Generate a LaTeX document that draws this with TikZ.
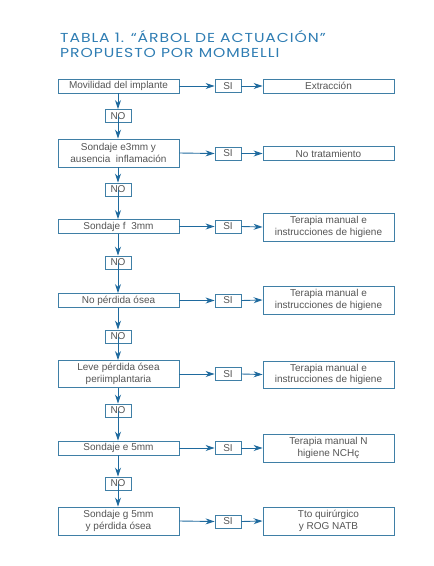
\documentclass[tikz,border=0pt]{standalone}
\usepackage{fontspec}
\setmainfont{Liberation Sans}
\newfontfamily\titlefont[LetterSpace=6]{Poppins}
\usetikzlibrary{arrows.meta}
\definecolor{boxc}{HTML}{3F7FA6}
\definecolor{arrc}{HTML}{1F6A9E}
\definecolor{txtc}{HTML}{555555}
\definecolor{titc}{HTML}{2F7DB3}
\tikzset{
  bx/.style={draw=boxc, line width=0.9pt, fill=white, text=txtc, font=\fontsize{10}{11.5}\selectfont, align=center, inner sep=0pt},
  lbox/.style={bx, minimum width=121pt},
  rbox/.style={bx, minimum width=131pt},
  sibox/.style={bx, minimum width=26pt, minimum height=13pt},
  nobox/.style={bx, minimum width=26pt, minimum height=13pt},
  arr/.style={draw=arrc, line width=0.9pt, -{Stealth[length=9pt,width=6pt]}},
  titl/.style={anchor=base west, text=titc, font=\titlefont\fontsize{13}{14}\selectfont, inner sep=0pt, xscale=1.2, transform shape}
}
\begin{document}
\begin{tikzpicture}[x=1pt,y=-1pt]
\useasboundingbox (0,0) rectangle (434,566);
\node[titl] (t1) at (60,42.5) {TABLA 1. “ÁRBOL DE ACTUACIÓN”};
\node[titl] (t2) at (60,57) {PROPUESTO POR MOMBELLI};
% left column
\node[lbox, minimum height=14pt] (l1) at (118.5,86) {Movilidad del implante};
\node[lbox, minimum height=28pt] (l2) at (118.5,153) {Sondaje e3mm y\\ausencia\ \ inflamación};
\node[lbox, minimum height=14pt] (l3) at (118.5,226.5) {Sondaje f\ \ 3mm};
\node[lbox, minimum height=14pt] (l4) at (118.5,300.5) {No pérdida ósea};
\node[lbox, minimum height=27pt] (l5) at (118.5,374) {Leve pérdida ósea\\periimplantaria};
\node[lbox, minimum height=14pt] (l6) at (118.5,448) {Sondaje e 5mm};
\node[lbox, minimum height=28pt] (l7) at (118.5,521) {Sondaje g 5mm\\y pérdida ósea};
% SI
\node[sibox] (s1) at (228,86) {SI};
\node[sibox] (s2) at (228,153.5) {SI};
\node[sibox] (s3) at (228,226.5) {SI};
\node[sibox] (s4) at (228,300.5) {SI};
\node[sibox] (s5) at (228,374) {SI};
\node[sibox] (s6) at (228,448) {SI};
\node[sibox] (s7) at (228,521.5) {SI};
% right
\node[rbox, minimum height=14pt] (r1) at (328.5,86) {Extracción};
\node[rbox, minimum height=14pt] (r2) at (328.5,153.5) {No tratamiento};
\node[rbox, minimum height=28pt] (r3) at (328.5,227) {Terapia manual e\\instrucciones de higiene};
\node[rbox, minimum height=28pt] (r4) at (328.5,300) {Terapia manual e\\instrucciones de higiene};
\node[rbox, minimum height=27pt] (r5) at (328.5,374.5) {Terapia manual e\\instrucciones de higiene};
\node[rbox, minimum height=28pt] (r6) at (328.5,448) {Terapia manual N\\higiene NCHç};
\node[rbox, minimum height=28pt] (r7) at (328.5,521) {Tto quirúrgico\\y ROG NATB};
% NO
\node[nobox] (n1) at (118,116) {NO};
\node[nobox] (n2) at (118,189.5) {NO};
\node[nobox] (n3) at (118,262.5) {NO};
\node[nobox] (n4) at (118,336.5) {NO};
\node[nobox] (n5) at (118,410.5) {NO};
\node[nobox] (n6) at (118,483.5) {NO};
% horizontal arrows
\foreach \i in {1,...,7}{
  \draw[arr] (l\i.east) -- (s\i.west);
  \draw[arr] (s\i.east) -- (r\i.west);
}
% vertical arrows
\foreach \a/\b in {1/1,2/2,3/3,4/4,5/5,6/6}{
  \draw[arr] (l\a.south -| n\b) -- (n\b.north);
}
\foreach \b/\c in {1/2,2/3,3/4,4/5,5/6,6/7}{
  \draw[arr] (n\b.center) -- (n\b |- l\c.north);
}
\end{tikzpicture}
\end{document}
